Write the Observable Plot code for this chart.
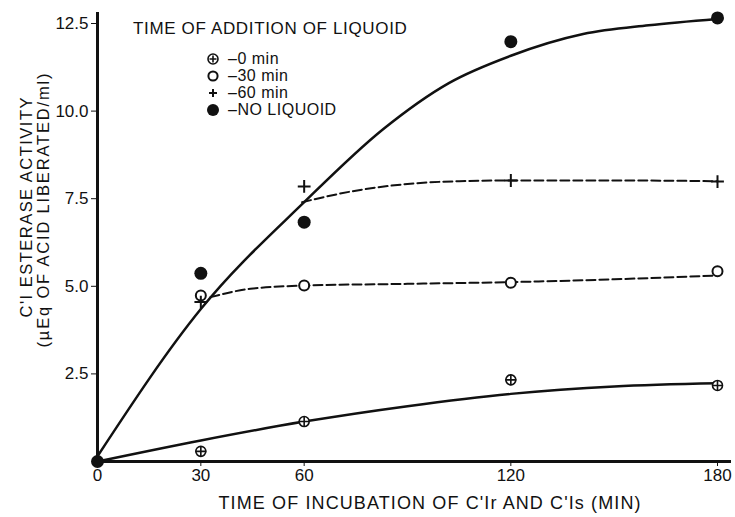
<!DOCTYPE html>
<html>
<head>
<meta charset="utf-8">
<script src="https://cdn.jsdelivr.net/npm/d3@7"></script>
<script src="https://cdn.jsdelivr.net/npm/@observablehq/plot@0.6"></script>
<style>
  html, body { margin: 0; padding: 0; background: #fff; }
  #wrap { position: relative; width: 735px; height: 517px; font-family: "Liberation Sans", Arial, sans-serif; color: #111; }
  #legend { position: absolute; left: 133px; top: 19px; }
  #legend .title { font-size: 17px; letter-spacing: 0.65px; white-space: nowrap; line-height: 20px; }
  #legend .row { display: flex; align-items: center; height: 17px; font-size: 16px; letter-spacing: 0.5px; white-space: nowrap; }
  #legend .rows { margin-left: 73px; margin-top: 11px; }
  #legend .row svg { width: 14px; height: 14px; margin-right: 8px; }
</style>
</head>
<body>
<div id="wrap"><div id="chart"></div><div id="legend"></div></div>
<script>
// ---- data ----
const times = [0, 30, 60, 120, 180];
const noLiquoid = [0, 5.37, 6.83, 11.98, 12.66];
const add0min  = [null, 0.29, 1.14, 2.33, 2.17];
const add30min = [null, 4.74, 5.02, 5.10, 5.43];
const add60min = [null, 4.55, 7.85, 8.02, 7.99];

// fitted curves (hand-drawn in the original)
const curveNoT = [0, 30, 60, 83, 102, 120, 141, 160, 180];
const curveNoV = [0.15, 4.35, 7.40, 9.49, 10.8, 11.58, 12.2, 12.45, 12.63];
const curve0T = [0, 30, 60, 90, 120, 150, 180];
const curve0V = [0, 0.6, 1.14, 1.58, 1.93, 2.14, 2.23];
const curve30T = [32.8, 44.4, 60, 90, 120, 150, 180];
const curve30V = [4.69, 4.93, 5.02, 5.07, 5.12, 5.2, 5.31];
const curve60T = [59.4, 75, 90, 105, 120, 150, 180];
const curve60V = [7.40, 7.73, 7.92, 8.0, 8.02, 8.02, 8.0];

const xTicks = [0, 30, 60, 120, 180];
const yTicks = [2.5, 5.0, 7.5, 10.0, 12.5];
const xLabel = "TIME OF INCUBATION OF C'Ir AND C'Is (MIN)";
const yLabelLines = ["C'I ESTERASE ACTIVITY", "(\u00B5Eq OF ACID LIBERATED/ml)"];
const legendTitle = "TIME OF ADDITION OF LIQUOID";
const legendLabels = ["\u20130 min", "\u201330 min", "\u201360 min", "\u2013NO LIQUOID"];
const legendKeys = ["oplus", "open", "plus", "filled"];

// ---- tables ----
const toPts = (vals) => times.map((t, i) => ({t, v: vals[i]})).filter(d => d.v != null);
const toCurve = (ts, vs) => ts.map((t, i) => ({t, v: vs[i]}));

const ink = "#111";
const chart = Plot.plot({
  width: 735,
  height: 517,
  marginLeft: 97,
  marginRight: 18,
  marginTop: 23,
  marginBottom: 56,
  style: {fontFamily: "Liberation Sans, Arial, sans-serif", fontSize: "16px", color: ink, background: "#fff"},
  x: {domain: [0, 180]},
  y: {domain: [0, 12.5]},
  marks: [
    Plot.ruleY([0], {stroke: ink, strokeWidth: 3, insetRight: -14, insetLeft: -1}),
    Plot.ruleX([0], {stroke: ink, strokeWidth: 3, insetTop: -11}),
    Plot.axisX({ticks: xTicks, tickSize: 5, tickPadding: 2, label: null, stroke: ink, fill: ink, fontSize: 17}),
    Plot.axisY({ticks: yTicks, tickSize: 6, tickPadding: 3, tickFormat: d3.format(".1f"), label: null, stroke: ink, fill: ink, fontSize: 17}),
    // fitted curves
    Plot.line(toCurve(curveNoT, curveNoV), {x: "t", y: "v", curve: "monotone-x", stroke: ink, strokeWidth: 2.5}),
    Plot.line(toCurve(curve0T, curve0V), {x: "t", y: "v", curve: "monotone-x", stroke: ink, strokeWidth: 2.5}),
    Plot.line(toCurve(curve30T, curve30V), {x: "t", y: "v", curve: "monotone-x", stroke: ink, strokeWidth: 2, strokeDasharray: "9,4"}),
    Plot.line(toCurve(curve60T, curve60V), {x: "t", y: "v", curve: "monotone-x", stroke: ink, strokeWidth: 2, strokeDasharray: "9,4"}),
    // data points
    Plot.dot(toPts(add30min), {x: "t", y: "v", r: 5, fill: "#fff", stroke: ink, strokeWidth: 2}),
    Plot.dot(toPts(add0min), {x: "t", y: "v", r: 5, fill: "#fff", stroke: ink, strokeWidth: 1.6}),
    Plot.dot(toPts(add0min), {x: "t", y: "v", r: 3.6, symbol: "plus", stroke: ink, strokeWidth: 1.6}),
    Plot.dot(toPts(add60min), {x: "t", y: "v", r: 4.2, symbol: "plus", stroke: ink, strokeWidth: 2}),
    Plot.dot(toPts(noLiquoid), {x: "t", y: "v", r: 6.5, fill: ink, stroke: "none"}),
    // axis titles
    Plot.text([xLabel], {frameAnchor: "bottom", dx: 22, dy: 47, fontSize: 18, fill: ink, textAnchor: "middle"}),
    Plot.text([yLabelLines[0]], {frameAnchor: "left", rotate: -90, dx: -71, dy: -35, fontSize: 16.5, fill: ink, textAnchor: "middle"}),
    Plot.text([yLabelLines[1]], {frameAnchor: "left", rotate: -90, dx: -54, dy: -32, fontSize: 16.5, fill: ink, textAnchor: "middle"})
  ]
});
document.getElementById("chart").appendChild(chart);

// stretch the hand-lettered titles to the widths seen in the reference
const titleWidths = new Map([[xLabel, 422], [yLabelLines[0], 220], [yLabelLines[1], 274]]);
chart.querySelectorAll("text").forEach(t => {
  const w = titleWidths.get(t.textContent);
  if (w) { t.setAttribute("textLength", w); t.setAttribute("lengthAdjust", "spacing"); }
});

// ---- legend ----
const symSvg = {
  oplus: '<circle cx="7" cy="7" r="5" fill="#fff" stroke="#111" stroke-width="1.6"/><path d="M3.5 7H10.5M7 3.5V10.5" stroke="#111" stroke-width="1.6"/>',
  open: '<circle cx="7" cy="7" r="4.6" fill="#fff" stroke="#111" stroke-width="2"/>',
  plus: '<path d="M3 7H11M7 3V11" stroke="#111" stroke-width="2"/>',
  filled: '<circle cx="7" cy="7" r="6" fill="#111"/>'
};
const lg = document.getElementById("legend");
lg.innerHTML = '<div class="title">' + legendTitle + '</div><div class="rows">' +
  legendLabels.map((l, i) => '<div class="row"><svg viewBox="0 0 14 14">' + symSvg[legendKeys[i]] + '</svg><span>' + l + '</span></div>').join("") +
  '</div>';
</script>
</body>
</html>
